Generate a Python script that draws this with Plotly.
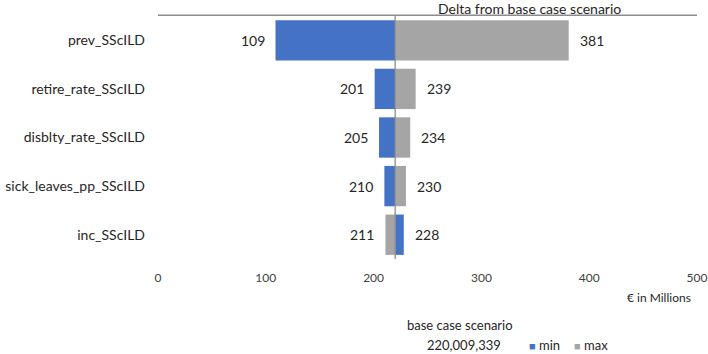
import plotly.graph_objects as go

categories = ["prev_SScILD", "retire_rate_SScILD", "disblty_rate_SScILD",
              "sick_leaves_pp_SScILD", "inc_SScILD"]
min_values = [109, 201, 205, 210, 228]
max_values = [381, 239, 234, 230, 211]
base_case = 220.009339
base_case_label = "220,009,339"
x_ticks = [0, 100, 200, 300, 400, 500]

BLUE = "#4472C4"
GRAY = "#A5A5A5"
FONT = "Lato"
TXT = "#262626"

fig = go.Figure()

for name, vals, col in [("min", min_values, BLUE), ("max", max_values, GRAY)]:
    fig.add_trace(go.Bar(
        name=name, y=categories, x=[v - base_case for v in vals], base=base_case,
        orientation="h", marker=dict(color=col, line=dict(width=0)),
        showlegend=False, hoverinfo="skip"))

annotations = []
# outer value labels
for vals in (min_values, max_values):
    for cat, v in zip(categories, vals):
        left = v < base_case
        annotations.append(dict(
            x=v, y=cat, xref="x", yref="y", text=str(v), showarrow=False,
            xanchor="right" if left else "left", xshift=-9 if left else 9,
            font=dict(family=FONT, size=14, color=TXT)))

annotations += [
    dict(text="Delta from base case scenario", xref="paper", yref="paper",
         x=0.69, y=1.0, xanchor="center", yanchor="bottom", yshift=-2, borderpad=0,
         showarrow=False, font=dict(size=14, color=TXT)),
    dict(text="€ in Millions", xref="paper", yref="paper", x=0.993, y=-0.16,
         xanchor="right", yanchor="middle", showarrow=False,
         font=dict(size=12, color=TXT)),
    dict(text="base case scenario", xref="paper", yref="paper", x=0.458,
         y=-0.272, xanchor="left", yanchor="middle", showarrow=False,
         font=dict(size=13, color=TXT)),
    dict(text=base_case_label, xref="paper", yref="paper", x=0.495,
         y=-0.354, xanchor="left", yanchor="middle", showarrow=False,
         font=dict(size=13, color=TXT)),
    dict(text=f"<span style='color:{BLUE};font-size:11px'>■</span> min", xref="paper",
         yref="paper", x=0.684, y=-0.354, xanchor="left", yanchor="middle",
         showarrow=False, font=dict(size=13, color=TXT)),
    dict(text=f"<span style='color:{GRAY};font-size:11px'>■</span> max", xref="paper",
         yref="paper", x=0.768, y=-0.354, xanchor="left", yanchor="middle",
         showarrow=False, font=dict(size=13, color=TXT)),
]

fig.update_layout(
    width=708, height=354,
    margin=dict(l=158, r=11, t=16, b=95, autoexpand=False),
    paper_bgcolor="white", plot_bgcolor="white",
    barmode="overlay", bargap=0.17,
    font=dict(family=FONT, size=13, color=TXT),
    xaxis=dict(range=[0, 500], tickvals=x_ticks, showgrid=False, zeroline=False,
               showline=False, ticks="", tickfont=dict(size=12, color="#404040"),
               ticklabelstandoff=10, automargin=False),
    yaxis=dict(categoryorder="array", categoryarray=categories,
               range=[4.5, -0.5], showgrid=False, zeroline=False, showline=False,
               ticks="", tickfont=dict(size=14, color=TXT), ticklabelstandoff=12,
               automargin=False),
    shapes=[
        dict(type="line", xref="x", yref="paper", x0=base_case, x1=base_case,
             y0=0, y1=1, line=dict(color="#8c8c8c", width=1.3)),
        dict(type="line", xref="paper", yref="paper", x0=0, x1=1.0,
             y0=1.003, y1=1.003, line=dict(color="#8c8c8c", width=1.3)),
    ],
    annotations=annotations,
)

fig.write_html("out.html", config={"displayModeBar": False},
               post_script="document.body.style.margin='0';document.body.style.overflow='hidden';")
